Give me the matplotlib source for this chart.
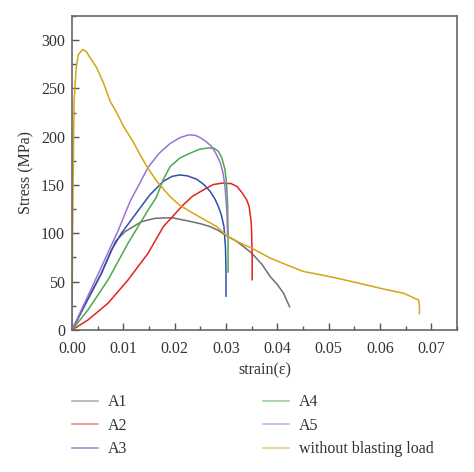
"""
Stress-strain curves, A1-A5 vs. the sample without blasting load
"""
import matplotlib
matplotlib.use("Agg")
import matplotlib.pyplot as plt
from matplotlib.ticker import MultipleLocator, FormatStrFormatter

# data
a1_strain = [0, 0.003, 0.0057, 0.0075, 0.0085, 0.0103, 0.0135, 0.0161, 0.018, 0.0197, 0.021,
             0.0225, 0.025, 0.0269, 0.0285, 0.0298, 0.032, 0.0335, 0.035, 0.037, 0.0386,
             0.04, 0.0412, 0.0424]
a1_stress = [0, 31, 58, 80, 92, 101.7, 112, 115.5, 116, 116, 114.5,
             113, 110, 107, 103, 98.5, 92, 86, 79.5, 68, 55.3,
             47, 38, 24]

a2_strain = [0, 0.0031, 0.007, 0.0109, 0.0148, 0.0178, 0.0217, 0.0235, 0.0256, 0.0275,
             0.0292, 0.031, 0.0321, 0.033, 0.034, 0.0345, 0.0349, 0.035, 0.0351, 0.0351]
a2_stress = [0, 10.3, 27.6, 51.7, 79.3, 107, 129.7, 138.5, 145, 150.5,
             152, 151.5, 148.7, 143, 135, 128, 112, 100, 75, 52]

a3_strain = [0, 0.0057, 0.0077, 0.0096, 0.0142, 0.0152, 0.0178, 0.0195, 0.021, 0.0225,
             0.0243, 0.0257, 0.0269, 0.0278, 0.0285, 0.0291, 0.0296, 0.0299, 0.03, 0.03]
a3_stress = [0, 58.6, 82.8, 100, 133, 140, 154, 159, 160.5, 159.5,
             156, 150.5, 143.5, 136, 128, 119, 107, 85, 60, 35]

a4_strain = [0, 0.0031, 0.007, 0.0109, 0.0148, 0.0164, 0.0178, 0.0191, 0.021, 0.023,
             0.0248, 0.0266, 0.0277, 0.0285, 0.0292, 0.0298, 0.0301, 0.0303, 0.0304, 0.0304]
a4_stress = [0, 20.7, 51.7, 89.7, 124, 137, 156, 169, 178, 183,
             187, 188.5, 188, 185, 178, 166, 152, 131.5, 100, 60]

a5_strain = [0, 0.0057, 0.009, 0.0113, 0.0149, 0.017, 0.0191, 0.021, 0.0227, 0.024,
             0.025, 0.026, 0.0272, 0.028, 0.0289, 0.0294, 0.0298, 0.0302, 0.0303]
a5_stress = [0, 65, 103, 133, 169, 183, 193, 199, 202, 201.5,
             199, 195.5, 190, 183, 173, 163, 149, 120, 97]

ref_strain = [0, 0.0001, 0.0003, 0.0004, 0.0008, 0.0012, 0.0021, 0.0028, 0.0035, 0.0048,
              0.0061, 0.0074, 0.0087, 0.01, 0.012, 0.0133, 0.0146, 0.0165, 0.0191, 0.021,
              0.023, 0.0255, 0.0282, 0.0302, 0.0328, 0.035, 0.0386, 0.042, 0.0451, 0.0485,
              0.0516, 0.055, 0.0581, 0.061, 0.0646, 0.0675, 0.0677, 0.0677]
ref_stress = [0, 100, 196, 237, 271, 285, 290.5, 288, 282, 271.5,
              256, 237, 225, 211, 194, 181, 169, 154, 138, 129,
              122.7, 115, 107, 97, 90, 84.7, 74.4, 67, 60.5, 57,
              53.6, 49.5, 45.6, 42, 38, 31, 25, 17]

series = [
    ("A1", a1_strain, a1_stress, "#6e6e6e"),
    ("A2", a2_strain, a2_stress, "#e2231f"),
    ("A3", a3_strain, a3_stress, "#2f4fab"),
    ("A4", a4_strain, a4_stress, "#4caa4c"),
    ("A5", a5_strain, a5_stress, "#9a72d2"),
    ("without blasting load", ref_strain, ref_stress, "#d4a516"),
]

plt.rcParams['font.family'] = ['Liberation Serif', 'DejaVu Serif']
plt.rcParams['font.size'] = 11.5

fig = plt.figure(figsize=(4.74, 4.72), dpi=100)
ax = fig.add_axes([0.152, 0.301, 0.812, 0.665])

for name, x, y, col in series:
    ax.plot(x, y, color=col, lw=1.1, label=name)

ax.set_xlim(0, 0.075)
ax.set_ylim(0, 325)
ax.xaxis.set_major_locator(MultipleLocator(0.01))
ax.xaxis.set_minor_locator(MultipleLocator(0.005))
ax.xaxis.set_major_formatter(FormatStrFormatter('%.2f'))
ax.yaxis.set_major_locator(MultipleLocator(50))
ax.yaxis.set_minor_locator(MultipleLocator(25))
ax.tick_params(which='both', direction='in', top=False, right=False, color='#555555',
               labelcolor='#333333')
ax.tick_params(which='major', length=5, width=1)
ax.tick_params(which='minor', length=3, width=1)
ax.tick_params(axis='x', pad=8)
ax.tick_params(axis='y', pad=5)
for sp in ax.spines.values():
    sp.set_color('#666666')
    sp.set_linewidth(1.2)

ax.set_xlabel('strain(ε)', color='#333333', labelpad=4)
ax.set_ylabel('Stress (MPa)', color='#333333', labelpad=5)

leg = ax.legend(loc='upper left', bbox_to_anchor=(0.152, 0.165), bbox_transform=fig.transFigure,
                ncol=2, frameon=False, handlelength=1.6, handletextpad=0.65,
                columnspacing=8.5, labelspacing=0.47, borderpad=0, borderaxespad=0)
for t in leg.get_texts():
    t.set_color('#333333')
for h in leg.legend_handles:
    h.set_alpha(0.6)

fig.savefig("out.png", dpi=100)
